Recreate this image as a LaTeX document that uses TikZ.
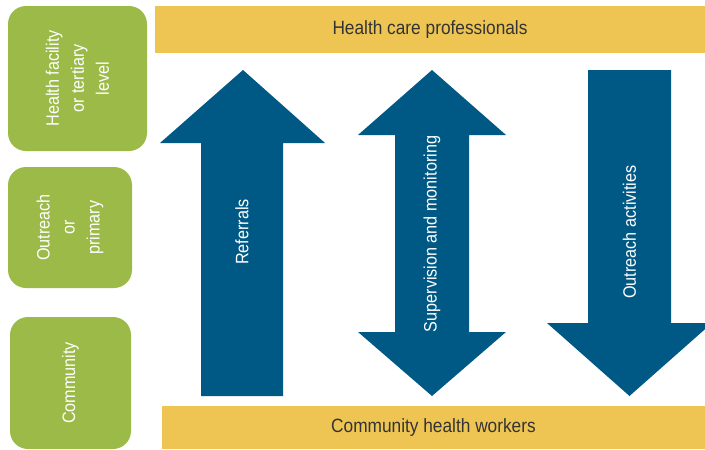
\documentclass[tikz,border=0pt]{standalone}
\usepackage{fontspec}
\setmainfont{Liberation Sans}[FakeStretch=0.9]
\definecolor{gbox}{HTML}{9BBA48}
\definecolor{ybar}{HTML}{EEC553}
\definecolor{abl}{HTML}{005985}
\definecolor{btxt}{HTML}{333333}
\begin{document}
\begin{tikzpicture}[x=1pt,y=-1pt,
  greenbox/.style={fill=gbox, rounded corners=18pt, text=white, align=center,
    font=\fontsize{18}{25}\selectfont, rotate=90, inner sep=0pt},
  barbox/.style={fill=ybar, text=btxt, font=\fontsize{19.2}{23}\selectfont, inner sep=0pt},
  arrowtxt/.style={text=white, rotate=90, inner sep=0pt, font=\fontsize{18}{22}\selectfont},
  blockarrow/.style={fill=abl}]
\useasboundingbox (0,0) rectangle (705,450);
\clip (0,0) rectangle (705,450);

% level boxes
\node[greenbox, minimum width=145pt, minimum height=139pt] (tertiary) at (77.5,78.5)
  {Health facility\\or tertiary\\level};
\node[greenbox, minimum width=121pt, minimum height=124pt] (primary) at (70,227.5)
  {Outreach\\or\\primary};
\node[greenbox, minimum width=132pt, minimum height=121pt] (community) at (70.5,383)
  {Community};

% bars
\node[barbox, minimum width=550pt, minimum height=47pt] (hcp) at (430,29.5)
  {Health care professionals};
\node[barbox, minimum width=543pt, minimum height=43pt] (chw) at (433.5,427.5)
  {Community health workers};

% arrows
\fill[blockarrow] (201,396) -- (201,143) -- (160,143) -- (243,70) -- (325,143)
  -- (283,143) -- (283,396) -- cycle;
\fill[blockarrow] (395,135) -- (358,135) -- (432,70) -- (506,135) -- (469,135)
  -- (469,332) -- (506,332) -- (432,396) -- (358,332) -- (395,332) -- cycle;
\fill[blockarrow] (588,70) -- (671,70) -- (671,323) -- (712,323) -- (629.5,396)
  -- (547,323) -- (588,323) -- cycle;

\node[arrowtxt] (ref) at (242,232) {Referrals};
\node[arrowtxt] (sup) at (432,234) {Supervision and monitoring};
\node[arrowtxt] (out) at (629.5,232) {Outreach activities};
\end{tikzpicture}
\end{document}
